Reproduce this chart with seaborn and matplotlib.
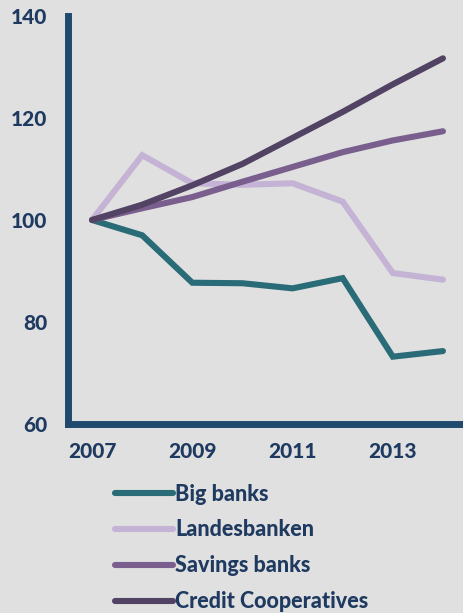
import matplotlib
matplotlib.use("Agg")
import matplotlib.pyplot as plt
import seaborn as sns
import pandas as pd

years = [2007, 2008, 2009, 2010, 2011, 2012, 2013, 2014]
big_banks = [100, 97.0, 87.7, 87.6, 86.6, 88.6, 73.2, 74.3]
landesbanken = [100, 112.7, 107.2, 106.9, 107.2, 103.6, 89.6, 88.3]
savings_banks = [100, 102.3, 104.5, 107.5, 110.4, 113.3, 115.6, 117.4]
credit_coops = [100, 103.0, 106.8, 111.0, 116.1, 121.2, 126.6, 131.7]
series_names = ["Big banks", "Landesbanken", "Savings banks", "Credit Cooperatives"]
colors = ["#2a6b78", "#c4b3d4", "#7a5f8e", "#524263"]
xticks = [2007, 2009, 2011, 2013]
yticks = [60, 80, 100, 120, 140]

rows = []
for name, vals in zip(series_names, [big_banks, landesbanken, savings_banks, credit_coops]):
    for y, v in zip(years, vals):
        rows.append({"year": y, "value": v, "series": name})
df = pd.DataFrame(rows)

sns.set_style("white")
plt.rcParams["font.family"] = ["Lato", "DejaVu Sans"]
bg = "#e0e0e0"
axis_col = "#1f4a6e"
text_col = "#1f3a60"

fig = plt.figure(figsize=(4.63, 6.13), dpi=100, facecolor=bg)
ax = fig.add_axes([68 / 463, 1 - 424 / 613, (463 - 68) / 463, (424 - 16) / 613])
ax.set_facecolor(bg)

sns.lineplot(data=df, x="year", y="value", hue="series", hue_order=series_names,
             palette=colors, linewidth=4.4, ax=ax, legend=False,
             solid_capstyle="round", solid_joinstyle="miter")

ax.set_xlim(2006.52, 2014.4)
ax.set_ylim(60, 140)
ax.set_xticks(xticks)
ax.set_yticks(yticks)
ax.set_xlabel("")
ax.set_ylabel("")
for s in ["top", "right"]:
    ax.spines[s].set_visible(False)
for s in ["left", "bottom"]:
    ax.spines[s].set_color(axis_col)
    ax.spines[s].set_linewidth(5)
ax.tick_params(axis="both", length=0, labelsize=15, labelcolor=text_col)
ax.tick_params(axis="y", pad=15)
ax.tick_params(axis="x", pad=13)
for lab in ax.get_xticklabels() + ax.get_yticklabels():
    lab.set_fontweight(900)

handles = [plt.Line2D([], [], color=c, linewidth=4.4, solid_capstyle="round") for c in colors]
leg = fig.legend(handles, series_names, loc="upper left",
                 bbox_to_anchor=(106 / 463, 1 - 475 / 613), frameon=False,
                 prop={"size": 15.5, "weight": 900}, handlelength=2.7,
                 handletextpad=0.12, labelspacing=0.69, borderaxespad=0)
for t in leg.get_texts():
    t.set_color(text_col)

fig.savefig("out.png", dpi=100, facecolor=bg)
